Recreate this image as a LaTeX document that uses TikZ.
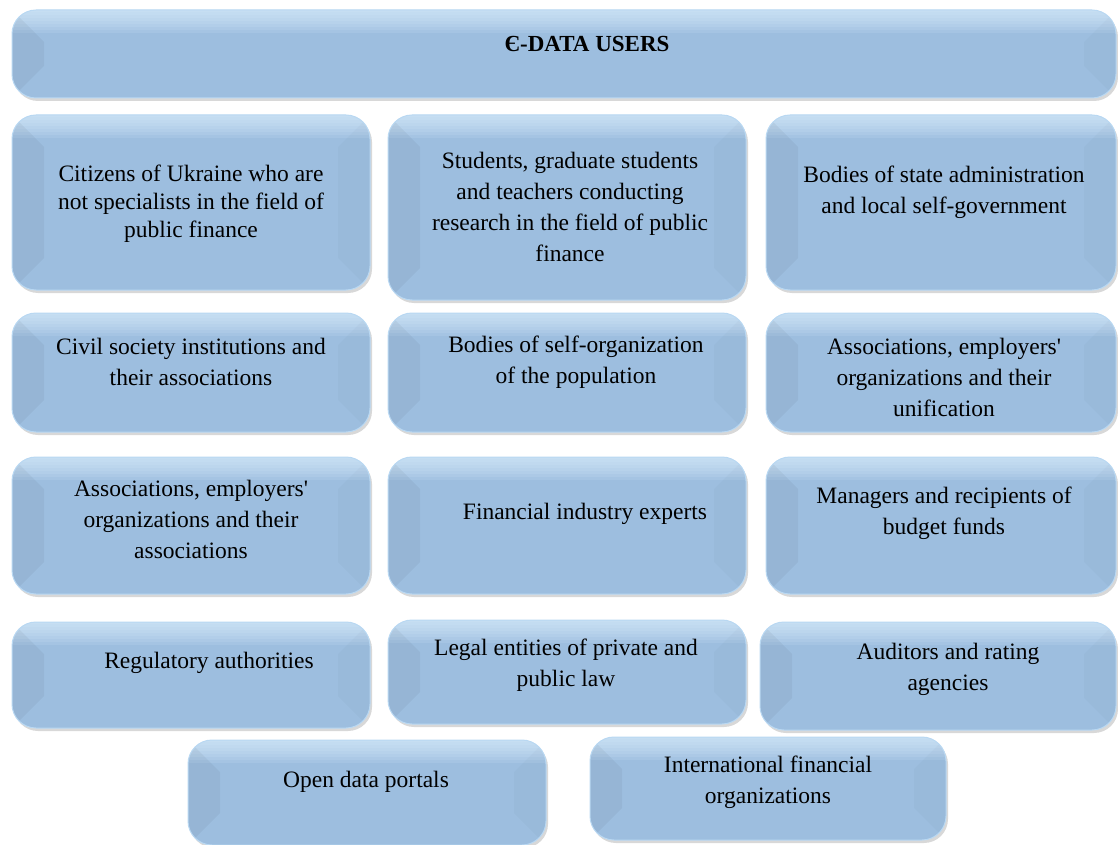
\documentclass[tikz,border=0pt]{standalone}
\usepackage{fontspec}
\setmainfont{Liberation Serif}
\usetikzlibrary{shadows, positioning}

\definecolor{boxmid}{RGB}{157, 190, 223}
\definecolor{boxtop}{RGB}{222, 242, 255}
\definecolor{boxedge}{RGB}{185, 216, 242}

\tikzset{
  userbox/.style={rounded corners=24pt, draw=boxedge, line width=1pt, fill=boxmid,
    drop shadow={shadow xshift=2pt, shadow yshift=-3pt, fill=black!30},
    path picture={
      % top glossy band
      \foreach \k in {0,...,7}
        \fill[sharp corners, boxtop, opacity=0.13] (path picture bounding box.north west)
          rectangle ([yshift=-2pt-\k*3pt]path picture bounding box.north east);
      % side bevels
      \fill[sharp corners, black, opacity=0.045] (path picture bounding box.north west)
        -- ([xshift=32pt, yshift=-32pt]path picture bounding box.north west)
        -- ([xshift=32pt, yshift=32pt]path picture bounding box.south west)
        -- (path picture bounding box.south west) -- cycle;
      \fill[sharp corners, black, opacity=0.02] (path picture bounding box.north east)
        -- ([xshift=-32pt, yshift=-32pt]path picture bounding box.north east)
        -- ([xshift=-32pt, yshift=32pt]path picture bounding box.south east)
        -- (path picture bounding box.south east) -- cycle;
    }},
  usertext/.style={align=center, font=\fontsize{23.5}{31}\selectfont},
}

\begin{document}
\begin{tikzpicture}[x=1pt, y=-1pt]
  \useasboundingbox (0,0) rectangle (1118,845);

  % title
  \node[userbox, minimum width=1104pt, minimum height=88pt] (title) at (564,54) {};
  \node[usertext, font=\fontsize{23}{31}\selectfont\bfseries] (title-t) at (587,44) {Є-DATA USERS};

  % row 1
  \node[userbox, minimum width=358pt, minimum height=175pt] (citizens) at (191,202.5) {};
  \node[usertext, font=\fontsize{23.5}{28}\selectfont] (citizens-t) at (191,204)
    {Citizens of Ukraine who are\\not specialists in the field of\\public finance};
  \node[userbox, minimum width=358pt, minimum height=185pt] (students) at (567,207.5) {};
  \node[usertext] (students-t) at (570,207)
    {Students, graduate students\\and teachers conducting\\research in the field of public\\finance};
  \node[userbox, minimum width=350pt, minimum height=175pt] (stateadm) at (941,202.5) {};
  \node[usertext] (stateadm-t) at (944,192)
    {Bodies of state administration\\and local self-government};

  % row 2
  \node[userbox, minimum width=358pt, minimum height=119pt] (civil) at (191,372.5) {};
  \node[usertext] (civil-t) at (191,362)
    {Civil society institutions and\\their associations};
  \node[userbox, minimum width=358pt, minimum height=119pt] (selforg) at (567,372.5) {};
  \node[usertext] (selforg-t) at (576,362)
    {Bodies of self-organization\\of the population};
  \node[userbox, minimum width=350pt, minimum height=119pt] (unific) at (941,372.5) {};
  \node[usertext] (unific-t) at (944,377)
    {Associations, employers\textquotesingle\\organizations and their\\unification};

  % row 3
  \node[userbox, minimum width=358pt, minimum height=137pt] (assoc) at (191,525.5) {};
  \node[usertext] (assoc-t) at (191,519)
    {Associations, employers\textquotesingle\\organizations and their\\associations};
  \node[userbox, minimum width=358pt, minimum height=137pt] (experts) at (567,525.5) {};
  \node[usertext] (experts-t) at (585,514) {Financial industry experts};
  \node[userbox, minimum width=350pt, minimum height=137pt] (managers) at (941,525.5) {};
  \node[usertext] (managers-t) at (944,513)
    {Managers and recipients of\\budget funds};

  % row 4
  \node[userbox, minimum width=358pt, minimum height=106pt] (regul) at (191,675) {};
  \node[usertext] (regul-t) at (209,663) {Regulatory authorities};
  \node[userbox, minimum width=358pt, minimum height=104pt] (legal) at (567,672) {};
  \node[usertext] (legal-t) at (566,665)
    {Legal entities of private and\\public law};
  \node[userbox, minimum width=356pt, minimum height=108pt] (auditors) at (938,676) {};
  \node[usertext] (auditors-t) at (948,669)
    {Auditors and rating\\agencies};

  % row 5
  \node[userbox, minimum width=358pt, minimum height=105pt] (portals) at (367,792.5) {};
  \node[usertext] (portals-t) at (366,782) {Open data portals};
  \node[userbox, minimum width=356pt, minimum height=103pt] (intfin) at (768,788.5) {};
  \node[usertext] (intfin-t) at (768,782)
    {International financial\\organizations};
\end{tikzpicture}
\end{document}
